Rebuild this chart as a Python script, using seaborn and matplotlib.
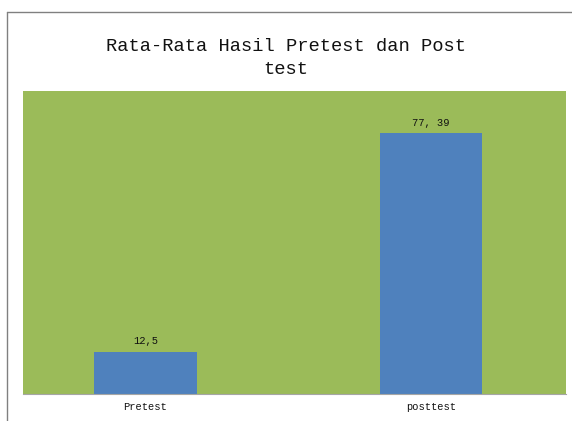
import matplotlib
matplotlib.use("Agg")
import matplotlib.pyplot as plt
from matplotlib.lines import Line2D
import seaborn as sns
import pandas as pd

categories = ["Pretest", "posttest"]
values = [12.5, 77.39]
value_labels = ["12,5", "77, 39"]
title = "Rata-Rata Hasil Pretest dan Post\ntest"

sns.set_theme(style="white")
plt.rcParams['font.family'] = ['Liberation Mono', 'DejaVu Sans Mono']

df = pd.DataFrame({"cat": categories, "val": values})

fig = plt.figure(figsize=(5.72, 4.21), dpi=100)
ax = fig.add_axes([23/572, 1-394/421, (566-23)/572, (394-91)/421])
sns.barplot(data=df, x="cat", y="val", color="#4F81BD", width=0.36,
            saturation=1, edgecolor="none", linewidth=0, ax=ax)
ax.set_facecolor("#9BBB59")
ax.set_ylim(0, 90)
ax.set_xlim(-0.429, 1.473)
ax.set_xlabel("")
ax.set_ylabel("")
ax.set_yticks([])
ax.tick_params(axis='x', length=0, labelsize=7.5, pad=6, colors="#111111")
for s in ["top", "right", "left"]:
    ax.spines[s].set_visible(False)
ax.spines["bottom"].set_color("#A6A6A6")
ax.spines["bottom"].set_linewidth(0.8)

for bar, lab in zip(ax.patches, value_labels):
    ax.annotate(lab, (bar.get_x() + bar.get_width()/2, bar.get_height()),
                xytext=(0, 4), textcoords="offset points", ha="center",
                va="bottom", fontsize=7.5, color="#111111")

fig.text(0.5, 1-58/421, title, ha="center", va="center", fontsize=13.5,
         linespacing=1.4, color="#111111")

# chart border
fig.add_artist(Line2D([7/572, 7/572], [0, 1-12/421], transform=fig.transFigure,
                      color="#808080", lw=1))
fig.add_artist(Line2D([7/572, 1], [1-12/421, 1-12/421], transform=fig.transFigure,
                      color="#808080", lw=1))

fig.savefig("out.png", dpi=100)
